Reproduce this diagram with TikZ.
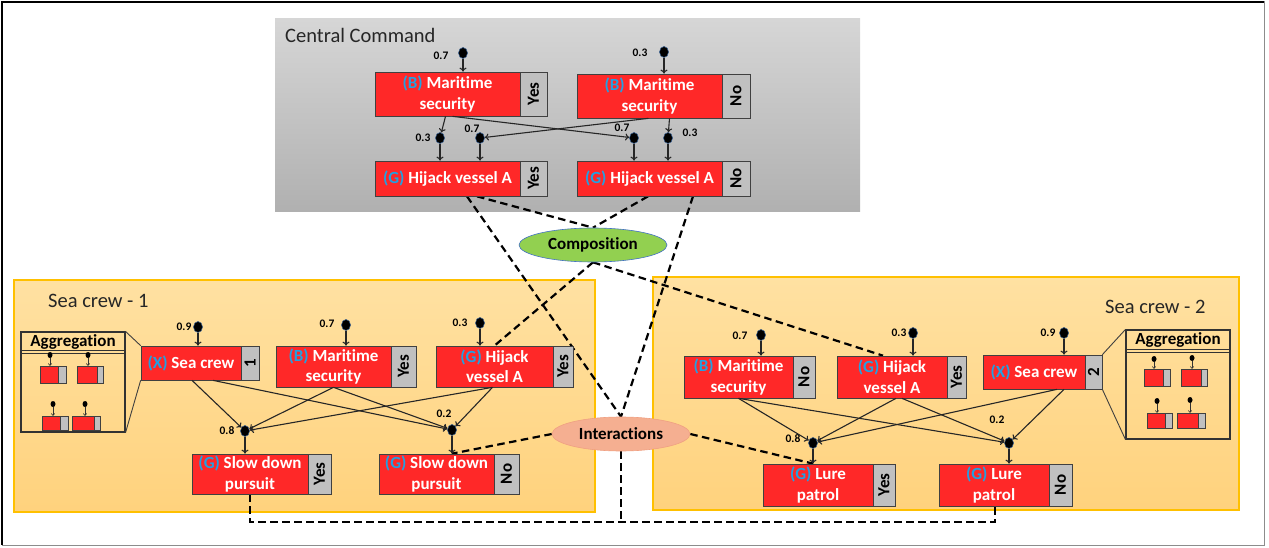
\documentclass[tikz,border=0pt]{standalone}
\usepackage{fontspec}
\usepackage{graphicx}
\setmainfont{Carlito}[Ligatures={NoCommon}]
\usetikzlibrary{arrows.meta,shapes.geometric,calc}
\definecolor{nred}{RGB}{255,40,40}
\definecolor{ngray}{RGB}{192,192,192}
\definecolor{nline}{RGB}{64,64,64}
\definecolor{lblue}{RGB}{35,160,225}
\definecolor{ccTop}{RGB}{214,214,214}
\definecolor{ccBot}{RGB}{176,176,176}
\definecolor{scTop}{RGB}{255,225,162}
\definecolor{scBot}{RGB}{255,210,125}
\definecolor{scLine}{RGB}{255,192,0}
\definecolor{compFill}{RGB}{146,208,80}
\definecolor{compLine}{RGB}{68,114,196}
\definecolor{intFill}{RGB}{245,175,145}
\definecolor{intLine}{RGB}{240,160,130}
\definecolor{dotLine}{RGB}{50,90,140}
\definecolor{aggLine}{RGB}{50,50,50}
\newcommand\myNodeFont{\fontsize{17}{20.5}\selectfont\bfseries}
\newcommand\myNumFont{\fontsize{11.5}{13}\selectfont\bfseries}
\newcommand\myTitleFont{\fontsize{20.5}{24}\selectfont}
\newcommand\pfx[1]{\textcolor{lblue}{(#1)}}
\pgfdeclarelayer{back}
\pgfdeclarelayer{mid}
\pgfsetlayers{back,mid,main}
\tikzset{
 redbox/.style={fill=nred, draw=nline, line width=0.7pt, inner sep=0pt, text=white, align=center, font=\myNodeFont},
 graybox/.style={fill=ngray, draw=nline, line width=0.7pt, inner sep=0pt, font=\myNodeFont},
 mred/.style={fill=nred, draw=nline, line width=0.5pt, inner sep=0pt},
 mgray/.style={fill=ngray, draw=nline, line width=0.5pt, inner sep=0pt},
 dot/.style={ellipse, fill=black, draw=dotLine, line width=0.5pt, minimum width=9pt, minimum height=11pt, inner sep=0pt},
 mdot/.style={ellipse, fill=black, minimum width=5pt, minimum height=6pt, inner sep=0pt},
 num/.style={font=\myNumFont, inner sep=0pt},
 arr/.style={-{To[length=4pt,width=7pt]}, line width=1.1pt, draw=black!85},
 marr/.style={-{To[length=2.5pt,width=4pt]}, line width=0.6pt, draw=black!80},
 dl/.style={line width=2.2pt, dash pattern=on 7.5pt off 4.5pt},
 zl/.style={line width=0.9pt, draw=nline},
 ttl/.style={font=\myTitleFont, inner sep=0pt, anchor=west, text=black!85},
 aggbox/.style={draw=aggLine, line width=1.1pt, inner sep=0pt},
 aggtxt/.style={font=\myNodeFont, inner sep=0pt},
 ell/.style={ellipse, inner sep=0pt, font=\myNodeFont, line width=0.6pt},
}
\newcommand\vnode[8]{%
 \node[redbox, minimum width={(#4)-(#2)}, minimum height={(#6)-(#3)}] (#1) at ({((#2)+(#4))/2},{((#3)+(#6))/2}) {#7};
 \node[graybox, minimum width={(#5)-(#4)}, minimum height={(#6)-(#3)}] (#1-g) at ({((#4)+(#5))/2},{((#3)+(#6))/2}) {\rotatebox{90}{#8}};
}
\newcommand\mnode[6]{%
 \node[mred, minimum width={(#4)-(#2)}, minimum height={(#6)-(#3)}] (#1) at ({((#2)+(#4))/2},{((#3)+(#6))/2}) {};
 \node[mgray, minimum width={(#5)-(#4)}, minimum height={(#6)-(#3)}] (#1-g) at ({((#4)+(#5))/2},{((#3)+(#6))/2}) {};
}
\newcommand\mdotarrow[3]{%
 \node[mdot] (#1-d) at (#2,#3) {};
 \draw[marr] (#1-d) -- (#1-d |- #1.north);
}
\begin{document}
\begin{tikzpicture}[x=1pt,y=-1pt]
\useasboundingbox (0,0) rectangle (1269,548);
% frame
\draw[line width=1pt, black!45] (2,2) rectangle (1264,545);
\draw[line width=2.2pt, black] (2,545) -- (2,2) -- (1264,2);

\begin{pgfonlayer}{back}
\shade[top color=ccTop, bottom color=ccBot] (275,19) rectangle (860,212);
\shade[top color=scTop, bottom color=scBot, draw=scLine, line width=1.3pt] (14,280) rectangle (595,512);
\shade[top color=scTop, bottom color=scBot, draw=scLine, line width=1.3pt] (653,277) rectangle (1239,510);
\end{pgfonlayer}

\node[ttl] (cct) at (285,35) {Central Command};
\node[ttl] (sc1t) at (48,301) {Sea crew - 1};
\node[ttl] (sc2t) at (1105,307) {Sea crew - 2};

% ---------- Central Command ----------
\vnode{ccms1}{375}{72}{520}{547}{116}{\pfx{B} Maritime\\security}{Yes}
\vnode{ccms2}{577}{74}{722}{750}{118}{\pfx{B} Maritime\\security}{No}
\vnode{cchv1}{375}{161}{520}{547}{196}{\pfx{G} Hijack vessel A}{Yes}
\vnode{cchv2}{577}{161}{722}{750}{196}{\pfx{G} Hijack vessel A}{No}

\node[dot] (cd1) at (463,53) {};
\node[num] (cd1-n) at (441,56) {0.7};
\node[dot] (cd2) at (664,52) {};
\node[num] (cd2-n) at (640,53) {0.3};
\node[dot] (cd3) at (440,138) {};
\node[num] (cd3-n) at (423,138) {0.3};
\node[dot] (cd4) at (480,138) {};
\node[num] (cd4-n) at (472,129) {0.7};
\node[dot] (cd5) at (634,138) {};
\node[num] (cd5-n) at (622,128) {0.7};
\node[dot] (cd6) at (668,138) {};
\node[num] (cd6-n) at (690,133) {0.3};

\draw[arr] (cd1) -- (cd1 |- ccms1.north);
\draw[arr] (cd2) -- (cd2 |- ccms2.north);
\draw[arr] ([xshift=-2pt]ccms1.south) -- (cd3);
\draw[arr] ([xshift=5pt]ccms1.south) -- (cd5);
\draw[arr] ([xshift=-1pt]ccms2.south) -- (cd4);
\draw[arr] ([xshift=20pt]ccms2.south) -- (cd6);
\draw[arr] (cd3) -- (cd3 |- cchv1.north);
\draw[arr] (cd4) -- (cd4 |- cchv1.north);
\draw[arr] (cd5) -- (cd5 |- cchv2.north);
\draw[arr] (cd6) -- (cd6 |- cchv2.north);

% ---------- Ellipses ----------
\node[ell, fill=compFill, draw=compLine, minimum width=148pt, minimum height=34pt] (comp) at (593,245) {Composition};
\node[ell, fill=intFill, draw=intLine, minimum width=138pt, minimum height=34pt] (inter) at (621,434) {Interactions};

% ---------- Sea crew 1 ----------
\vnode{s1x}{141}{346}{241}{259}{380}{\pfx{X} Sea crew}{1}
\vnode{s1ms}{276}{346}{391}{416}{387}{\pfx{B} Maritime\\security}{Yes}
\vnode{s1hv}{436}{346}{553}{573}{387}{\pfx{G} Hijack\\vessel A}{Yes}
\vnode{s1sy}{192}{454}{308}{331}{494}{\pfx{G} Slow down\\pursuit}{Yes}
\vnode{s1sn}{379}{454}{494}{519}{494}{\pfx{G} Slow down\\pursuit}{No}

\node[dot] (s1d1) at (198,327) {};
\node[num] (s1d1-n) at (184,327) {0.9};
\node[dot] (s1d2) at (346,325) {};
\node[num] (s1d2-n) at (327,324) {0.7};
\node[dot] (s1d3) at (480,323) {};
\node[num] (s1d3-n) at (460,323) {0.3};
\node[dot] (s1d4) at (245,431) {};
\node[num] (s1d4-n) at (227,431) {0.8};
\node[dot] (s1d5) at (452,430) {};
\node[num] (s1d5-n) at (444,414) {0.2};

\draw[arr] (s1d1) -- (s1d1 |- s1x.north);
\draw[arr] (s1d2) -- (s1d2 |- s1ms.north);
\draw[arr] (s1d3) -- (s1d3 |- s1hv.north);
\draw[arr] ([xshift=1pt]s1x.south) -- (s1d4);
\draw[arr] ([xshift=22pt]s1x.south) -- (s1d5);
\draw[arr] (s1ms.south) -- (s1d4);
\draw[arr] (s1ms.south) -- (s1d5);
\draw[arr] ([xshift=-2pt]s1hv.south) -- (s1d4);
\draw[arr] ([xshift=-2pt]s1hv.south) -- (s1d5);
\draw[arr] (s1d4) -- (s1d4 |- s1sy.north);
\draw[arr] (s1d5) -- (s1d5 |- s1sn.north);

% aggregation 1
\node[aggbox, minimum width=104pt, minimum height=100pt] (agg1) at (73,382) {};
\draw[aggbox] ($(agg1.north west)+(0,19)$) -- ($(agg1.north east)+(0,19)$);
\draw[aggbox] ($(agg1.north west)+(0,22)$) -- ($(agg1.north east)+(0,22)$);
\node[aggtxt] (agg1t) at ($(agg1.north)+(0,10.5)$) {Aggregation};
\mnode{a1m1}{40}{366}{58}{66}{383}
\mnode{a1m2}{77}{366}{97}{103}{383}
\mnode{a1m3}{42}{416}{60}{68}{430}
\mnode{a1m4}{72}{416}{94}{100}{430}
\mdotarrow{a1m1}{50}{355}
\mdotarrow{a1m2}{88}{355}
\mdotarrow{a1m3}{53}{404}
\mdotarrow{a1m4}{85}{404}
\draw[zl] (agg1.north east) -- (s1x.north west);
\draw[zl] (agg1.south east) -- (s1x.south west);

% ---------- Sea crew 2 ----------
\vnode{s2ms}{684}{356}{793}{815}{398}{\pfx{B} Maritime\\security}{No}
\vnode{s2hv}{837}{356}{947}{966}{398}{\pfx{G} Hijack\\vessel A}{Yes}
\vnode{s2x}{983}{355}{1085}{1102}{389}{\pfx{X} Sea crew}{2}
\vnode{s2ly}{763}{464}{873}{895}{506}{\pfx{G} Lure\\patrol}{Yes}
\vnode{s2ln}{939}{464}{1049}{1072}{506}{\pfx{G} Lure\\patrol}{No}

\node[dot] (s2d1) at (761,335) {};
\node[num] (s2d1-n) at (740,336) {0.7};
\node[dot] (s2d2) at (913,333) {};
\node[num] (s2d2-n) at (899,333) {0.3};
\node[dot] (s2d3) at (1064,333) {};
\node[num] (s2d3-n) at (1048,333) {0.9};
\node[dot] (s2d4) at (813,443) {};
\node[num] (s2d4-n) at (793,439) {0.8};
\node[dot] (s2d5) at (1009,443) {};
\node[num] (s2d5-n) at (997,420) {0.2};

\draw[arr] (s2d1) -- (s2d1 |- s2ms.north);
\draw[arr] (s2d2) -- (s2d2 |- s2hv.north);
\draw[arr] (s2d3) -- (s2d3 |- s2x.north);
\draw[arr] (s2ms.south) -- (s2d4);
\draw[arr] (s2ms.south) -- (s2d5);
\draw[arr] ([xshift=4pt]s2hv.south) -- (s2d4);
\draw[arr] ([xshift=10pt]s2hv.south) -- (s2d5);
\draw[arr] ([xshift=23pt]s2x.south) -- (s2d4);
\draw[arr] ([xshift=30pt]s2x.south) -- (s2d5);
\draw[arr] (s2d4) -- (s2d4 |- s2ly.north);
\draw[arr] (s2d5) -- (s2d5 |- s2ln.north);

% aggregation 2
\node[aggbox, minimum width=104pt, minimum height=109pt] (agg2) at (1178,384.5) {};
\draw[aggbox] ($(agg2.north west)+(0,20)$) -- ($(agg2.north east)+(0,20)$);
\draw[aggbox] ($(agg2.north west)+(0,23)$) -- ($(agg2.north east)+(0,23)$);
\node[aggtxt] (agg2t) at ($(agg2.north)+(0,11)$) {Aggregation};
\mnode{a2m1}{1144}{369}{1163}{1170}{386}
\mnode{a2m2}{1181}{369}{1201}{1207}{386}
\mnode{a2m3}{1147}{413}{1165}{1172}{428}
\mnode{a2m4}{1177}{413}{1198}{1205}{428}
\mdotarrow{a2m1}{1154}{359}
\mdotarrow{a2m2}{1192}{358}
\mdotarrow{a2m3}{1157}{401}
\mdotarrow{a2m4}{1190}{400}
\draw[zl] (s2x-g.north east) -- (agg2.north west);
\draw[zl] (s2x-g.south east) -- (agg2.south west);

% ---------- dashed links ----------
\coordinate (bus) at (621,522);
\begin{pgfonlayer}{mid}
\draw[dl] ([xshift=19.5pt]cchv1.south) -- (inter.north);
\draw[dl] ([xshift=29.5pt]cchv1.south) -- (comp.north);
\draw[dl] ([xshift=-1.5pt]cchv2.south) -- (comp.north);
\draw[dl] ([xshift=43.5pt]cchv2.south) -- (inter.north);
\draw[dl] (comp.south) -- (s1hv.north);
\draw[dl] (comp.south) -- ([xshift=-9pt]s2hv.north);
\draw[dl] (inter.west) -- (s1d5 |- s1sn.north);
\draw[dl] (inter.east) -- (s2d4 |- s2ly.north);
\draw[dl] (inter.south) -- (inter.south |- bus);
\draw[dl] (s1sy.south) -- (s1sy.south |- bus) -| ([xshift=1pt]s2ln.south);
\end{pgfonlayer}
\end{tikzpicture}
\end{document}
